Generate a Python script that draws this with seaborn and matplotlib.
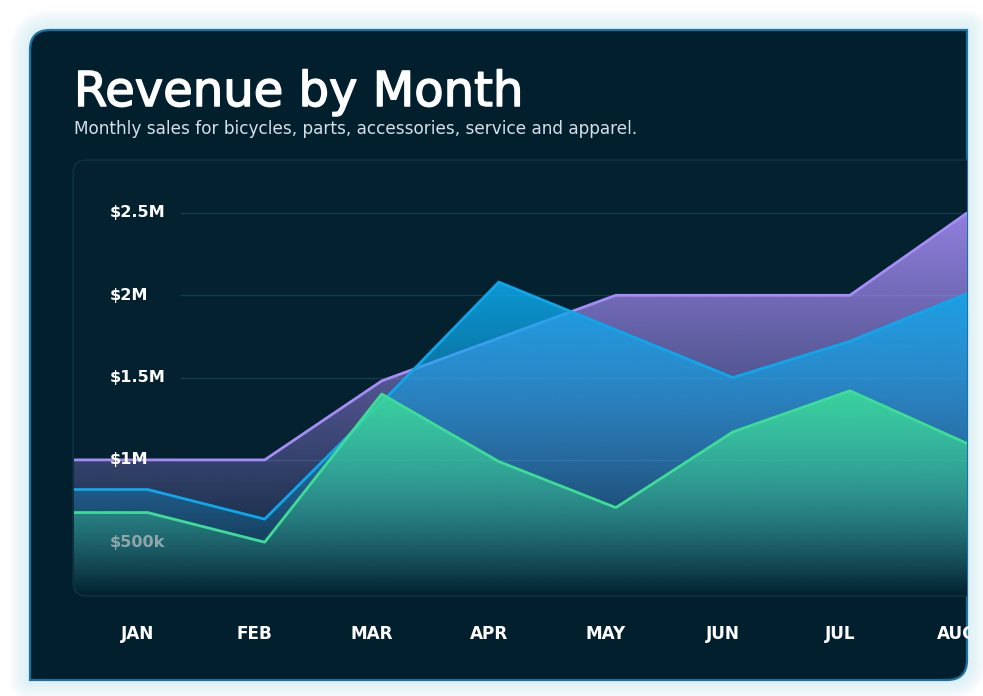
import numpy as np
import pandas as pd
import matplotlib
matplotlib.use('Agg')
import matplotlib.pyplot as plt
import matplotlib.transforms as mtransforms
import matplotlib.patheffects as pe
from matplotlib.path import Path
from matplotlib.patches import PathPatch, FancyBboxPatch, Rectangle
from matplotlib.colors import to_rgb
import seaborn as sns

# values, in $M
months = ['JAN', 'FEB', 'MAR', 'APR', 'MAY', 'JUN', 'JUL', 'AUG']
violet_m = [1.00, 1.00, 1.48, 1.74, 2.00, 2.00, 2.00, 2.50]
sky_m = [0.82, 0.64, 1.35, 2.08, 1.79, 1.50, 1.72, 2.01]
emerald_m = [0.68, 0.50, 1.40, 0.99, 0.71, 1.17, 1.42, 1.10]

ytick_vals = [0.5, 1.0, 1.5, 2.0, 2.5]
ytick_labels = ['$500k', '$1M', '$1.5M', '$2M', '$2.5M']
ytick_colors = ['#8fa6ac', 'white', 'white', 'white', 'white']
grid_vals = [1.0, 1.5, 2.0, 2.5]

title = 'Revenue by Month'
subtitle = 'Monthly sales for bicycles, parts, accessories, service and apparel.'

sns.set_theme(style='white')
plt.rcParams['font.family'] = ['DejaVu Sans']

W, H = 983, 696
fig = plt.figure(figsize=(W / 100, H / 100), dpi=100, facecolor='white')

# background layer in pixel coords
bg = fig.add_axes([0, 0, 1, 1])
bg.set_xlim(0, W)
bg.set_ylim(H, 0)
bg.axis('off')

L, T, R, B, rad = 30, 30, 967, 680, 20
verts = [(L + rad, T), (R, T), (R, B - rad), (R, B), (R - rad, B), (L, B), (L, T + rad), (L, T), (L + rad, T), (L + rad, T)]
codes = [Path.MOVETO, Path.LINETO, Path.LINETO, Path.CURVE3, Path.CURVE3, Path.LINETO, Path.LINETO,
         Path.CURVE3, Path.CURVE3, Path.CLOSEPOLY]
card_path = Path(verts, codes)


def glow(axis):
    for i in range(14):
        axis.add_patch(PathPatch(card_path, facecolor='none', edgecolor='#b3dff6', lw=(2 + i * 3) * 0.72,
                                 alpha=0.035, joinstyle='round'))


glow(bg)
card = PathPatch(card_path, facecolor='#021f2e', edgecolor='#1a72a0', lw=1.6)
bg.add_patch(card)

panel = FancyBboxPatch((73, 160), 980, 436, boxstyle='round,pad=0,rounding_size=14',
                       facecolor='#03212f', edgecolor='#0e3546', lw=1.0)
bg.add_patch(panel)
panel.set_clip_path(card)

bg.text(74, 106, title, color='white', fontsize=34.6, va='baseline', ha='left',
        path_effects=[pe.withStroke(linewidth=1.1, foreground='white')])
bg.text(74, 134, subtitle, color='#d5e0e6', fontsize=12.2, va='baseline', ha='left')

# main chart axes
ax = fig.add_axes([74 / W, (H - 596) / H, (967 - 74) / W, (596 - 160) / H])
ax.set_facecolor('none')
for s in ax.spines.values():
    s.set_visible(False)

xpos = np.arange(len(months))
x_left, x_right = -0.629, 6.958
ybot, ytop = 0.173, 2.822
ax.set_xlim(x_left, x_right)
ax.set_ylim(ybot, ytop)

ax.hlines(grid_vals, (180 - 74) / 893, 1, transform=ax.get_yaxis_transform(),
          color='#133e4f', lw=1, zorder=0.5)

series = [('violet', violet_m, '#a58cf6', 1), ('sky', sky_m, '#0ea8ea', 3), ('emerald', emerald_m, '#3ddc97', 5)]
for name, vals, col, z in series:
    xs = np.r_[x_left, xpos]
    ys = np.r_[vals[0], vals]
    poly = ax.fill_between(xs, ys, ybot, facecolor='none', edgecolor='none')
    grad = np.zeros((200, 1, 4))
    grad[:, :, :3] = to_rgb(col)
    grad[:, 0, 3] = np.linspace(0.0, 0.88, 200)
    im = ax.imshow(grad, aspect='auto', origin='lower', extent=[xs[0], xs[-1], ybot, max(ys)],
                   zorder=z, interpolation='bilinear')
    im.set_clip_path(poly.get_paths()[0], transform=ax.transData)
    df = pd.DataFrame({'x': xs, 'y': ys})
    sns.lineplot(data=df, x='x', y='y', color=col, lw=2.0, sort=False, ax=ax, zorder=z + 0.5)

ax.set_xlim(x_left, x_right)
ax.set_ylim(ybot, ytop)
ax.set_xlabel('')
ax.set_ylabel('')
ax.set_yticks([])

for v, lab, c in zip(ytick_vals, ytick_labels, ytick_colors):
    ax.text((110 - 74) / 893, v, lab, transform=ax.get_yaxis_transform(), ha='left', va='center',
            color=c, fontsize=11.6, fontweight='bold', zorder=10)

ax.set_xticks(xpos)
ax.set_xticklabels(months)
ax.tick_params(axis='x', length=0, pad=21, labelsize=12.2, labelcolor='white')
shift = mtransforms.ScaledTranslation(-10 / 100, 0, fig.dpi_scale_trans)
for lab in ax.get_xticklabels():
    lab.set_fontweight('bold')
    lab.set_transform(lab.get_transform() + shift)

# strip right of the card: repaint the page so the last month label is cut at the card edge
ov = fig.add_axes([968.5 / W, 0, 1 - 968.5 / W, 1])
ov.set_zorder(5)
ov.set_xlim(968.5, W)
ov.set_ylim(H, 0)
ov.axis('off')
ov.add_patch(Rectangle((968.5, 0), W, H, facecolor='white', edgecolor='none'))
glow(ov)

fig.savefig('out.png', dpi=100, facecolor='white')
